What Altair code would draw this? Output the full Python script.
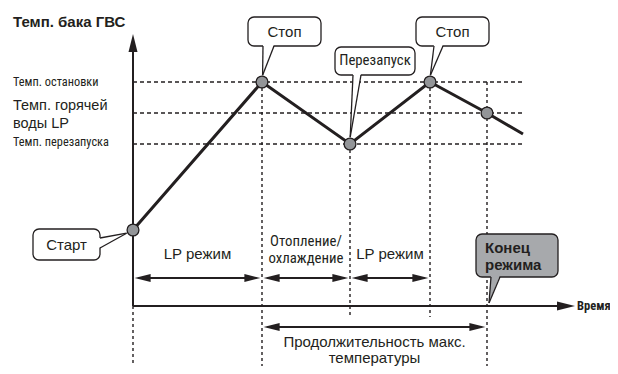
import altair as alt
import pandas as pd

# ---------------- values ----------------
# time and tank temperature in arbitrary (schematic) units
event_names = ["Старт", "Стоп", "Перезапуск", "Стоп", "Конец режима", ""]
event_time = [0, 32.25, 54.25, 74.25, 88.5, 97.5]
tank_temp = [19, 56, 40.5, 56, 48.25, 43]
event_marked = [True, True, True, True, True, False]

level_lines = [["Темп. остановки"], ["Темп. горячей", "воды LP"], ["Темп. перезапуска"]]
level_temp = [56, 48.25, 40.5]

phase_lines = [["LP режим"], ["Отопление/", "охлаждение"], ["LP режим"]]
phase_from = [0, 32.25, 54.25]
phase_to = [32.25, 54.25, 74.25]

maxtemp_lines = ["Продолжительность макс.", "температуры"]
maxtemp_from = 32.25
maxtemp_to = 88.5

title_text = "Темп. бака ГВС"
x_axis_name = "Время"
end_lines = ["Конец", "режима"]

# ---------------- layout (schematic units, 4 px per unit) ----------------
X_MIN, X_MAX = -31.25, 119.25
Y_MIN, Y_MAX = -15, 74.5
INK = "#231f20"
GREY = "#939598"
BOX_GREY = "#a7a9ac"
NARROW = "Noto Sans Condensed, Roboto Condensed, Arial Narrow, Roboto, Liberation Sans"
SANS = "Liberation Sans, Arial, Helvetica"

xs = alt.Scale(domain=[X_MIN, X_MAX], nice=False, zero=False)
ys = alt.Scale(domain=[Y_MIN, Y_MAX], nice=False, zero=False)


def X(f):
    return alt.X(f + ":Q", scale=xs, axis=None)


def Y(f):
    return alt.Y(f + ":Q", scale=ys, axis=None)


# temperature curve
curve = pd.DataFrame({"t": event_time, "v": tank_temp, "m": event_marked})

# dashed level lines
levels = pd.DataFrame({"x": 0, "x2": event_time[-1], "y": level_temp})
dash_layer = alt.Chart(levels).mark_rule(color=INK, strokeWidth=1.3, strokeDash=[4, 3]).encode(
    x=X("x"), x2="x2:Q", y=Y("y"))

# dotted vertical guides
guides = pd.DataFrame({
    "x": [event_time[0], event_time[1], event_time[2], event_time[3], event_time[4]],
    "y": [0, level_temp[0], tank_temp[2], level_temp[0], level_temp[0]],
    "y2": [Y_MIN, Y_MIN, -2.75, -2.75, Y_MIN],
})
guide_layer = alt.Chart(guides).mark_rule(color=INK, strokeWidth=1.4, strokeDash=[3, 3]).encode(
    x=X("x"), y=Y("y"), y2="y2:Q")

# axes
axes = pd.DataFrame({"x": [0, 0], "x2": [0, 108], "y": [0, 0], "y2": [64, 0]})
axis_layer = alt.Chart(axes).mark_rule(color=INK, strokeWidth=2).encode(
    x=X("x"), x2="x2:Q", y=Y("y"), y2="y2:Q")

# double arrows (phases + max temperature duration)
GAP = 0.4
INSET = 1.0
shaft_rows = []
head_rows = [
    {"x": 0, "y": 68, "angle": 270, "size": 324},
    {"x": 110.5, "y": 0, "angle": 0, "size": 324},
]
for a, b in zip(phase_from, phase_to):
    shaft_rows.append({"x": a + GAP + INSET, "x2": b - GAP - INSET, "y": 7})
    head_rows.append({"x": a + GAP, "y": 7, "angle": 180, "size": 256})
    head_rows.append({"x": b - GAP, "y": 7, "angle": 0, "size": 256})
shaft_rows.append({"x": maxtemp_from + GAP + INSET, "x2": maxtemp_to - GAP - INSET, "y": -5.25})
head_rows.append({"x": maxtemp_from + GAP, "y": -5.25, "angle": 180, "size": 256})
head_rows.append({"x": maxtemp_to - GAP, "y": -5.25, "angle": 0, "size": 256})

shaft_layer = alt.Chart(pd.DataFrame(shaft_rows)).mark_rule(color=INK, strokeWidth=2).encode(
    x=X("x"), x2="x2:Q", y=Y("y"))
head_layer = alt.Chart(pd.DataFrame(head_rows)).mark_point(
    shape="M0,0L-2,-0.5L-2,0.5Z", filled=True, color=INK, opacity=1).encode(
    x=X("x"), y=Y("y"), angle=alt.Angle("angle:Q", scale=None), size=alt.Size("size:Q", scale=None))

line_layer = alt.Chart(curve).mark_line(color=INK, strokeWidth=3).encode(x=X("t"), y=Y("v"))
point_layer = alt.Chart(curve[curve["m"]]).mark_circle(
    size=140, color=GREY, stroke=INK, strokeWidth=1.3, opacity=1).encode(x=X("t"), y=Y("v"))

# callouts
boxes = pd.DataFrame({
    "name": ["Стоп", "Перезапуск", "Стоп", "Старт"],
    "x": [28.75, 50.5, 70.75, -25],
    "x2": [47, 70.5, 89, -8.25],
    "y": [65, 57.75, 65, 11.5],
    "y2": [72.25, 64.75, 72.25, 19.25],
})
boxes["cx"] = (boxes["x"] + boxes["x2"]) / 2
boxes["cy"] = (boxes["y"] + boxes["y2"]) / 2
end_box = pd.DataFrame({"x": [85.75], "x2": [106.25], "y": [7.25], "y2": [18]})

box_layer = alt.Chart(boxes).mark_rect(cornerRadius=6, fill="white", stroke=INK, strokeWidth=1.3).encode(
    x=X("x"), x2="x2:Q", y=Y("y"), y2="y2:Q")
end_box_layer = alt.Chart(end_box).mark_rect(cornerRadius=6, fill=BOX_GREY, stroke=INK, strokeWidth=1.3).encode(
    x=X("x"), x2="x2:Q", y=Y("y"), y2="y2:Q")

# pointers below boxes: (base left, base right, base y, tip x, tip y)
ptr = pd.DataFrame({
    "id": ["s1", "r", "s2", "e"],
    "bl": [32.5, 55, 75.25, 89.5],
    "br": [35.25, 57, 77.5, 91.75],
    "by": [65, 57.75, 65, 7.25],
    "tx": [32.4, 54.3, 74.35, 89],
    "ty": [57.7, 42.2, 57.7, 0.75],
    "grey": [False, False, False, True],
})
fill_rows = []
edge_rows = []
for r in ptr.itertuples():
    fill_rows.append({"id": r.id, "y": r.by + 0.45, "x": r.bl, "x2": r.br, "grey": r.grey})
    fill_rows.append({"id": r.id, "y": r.ty, "x": r.tx, "x2": r.tx, "grey": r.grey})
    edge_rows.append({"x": r.bl, "y": r.by, "x2": r.tx, "y2": r.ty})
    edge_rows.append({"x": r.br, "y": r.by, "x2": r.tx, "y2": r.ty})
# horizontal pointer of "Старт"
sx, sy1, sy2, stx, sty = -8.25, 17.0, 14.5, -1.6, 18.2
hfill = pd.DataFrame({"x": [sx - 0.3, stx], "y": [sy1, sty], "y2": [sy2, sty]})
edge_rows.append({"x": sx, "y": sy1, "x2": stx, "y2": sty})
edge_rows.append({"x": sx, "y": sy2, "x2": stx, "y2": sty})

fills = pd.DataFrame(fill_rows)
fill_white = alt.Chart(fills[~fills["grey"]]).mark_area(orient="horizontal", color="white", opacity=1).encode(
    y=Y("y"), x=X("x"), x2="x2:Q", detail="id:N")
fill_grey = alt.Chart(fills[fills["grey"]]).mark_area(orient="horizontal", color=BOX_GREY, opacity=1).encode(
    y=Y("y"), x=X("x"), x2="x2:Q", detail="id:N")
fill_h = alt.Chart(hfill).mark_area(orient="vertical", color="white", opacity=1).encode(
    x=X("x"), y=Y("y"), y2="y2:Q")
edge_layer = alt.Chart(pd.DataFrame(edge_rows)).mark_rule(color=INK, strokeWidth=1.3).encode(
    x=X("x"), x2="x2:Q", y=Y("y"), y2="y2:Q")

# ---------------- texts ----------------
def txt(df, **kw):
    return alt.Chart(df).mark_text(color=INK, **kw).encode(x=X("x"), y=Y("y"), text="text:N")


title_df = pd.DataFrame({"x": [-30], "y": [69.75], "text": [title_text]})
small_levels = pd.DataFrame({"x": [-30, -30], "y": [55, 40],
                             "text": [level_lines[0][0], level_lines[2][0]]})
big_level = pd.DataFrame({"x": [-30, -30], "y": [49.1, 44.5], "text": level_lines[1]})

reg_rows = []
for r in boxes.itertuples():
    if r.name != "Перезапуск":
        reg_rows.append({"x": r.cx, "y": r.cy, "text": r.name})
for a, b, lines in zip(phase_from, phase_to, phase_lines):
    if len(lines) == 1:
        reg_rows.append({"x": (a + b) / 2, "y": 13, "text": lines[0]})
mid = (maxtemp_from + maxtemp_to) / 2
reg_rows.append({"x": mid, "y": -9.1, "text": maxtemp_lines[0]})
reg_rows.append({"x": mid, "y": -13.1, "text": maxtemp_lines[1]})
reg_df = pd.DataFrame(reg_rows)

narrow_rows = []
for r in boxes.itertuples():
    if r.name == "Перезапуск":
        narrow_rows.append({"x": r.cx, "y": r.cy, "text": r.name})
for a, b, lines in zip(phase_from, phase_to, phase_lines):
    if len(lines) == 2:
        narrow_rows.append({"x": (a + b) / 2, "y": 16, "text": lines[0]})
        narrow_rows.append({"x": (a + b) / 2, "y": 11.75, "text": lines[1]})
narrow_df = pd.DataFrame(narrow_rows)

end_df = pd.DataFrame({"x": [88, 88], "y": [14.5, 10.25], "text": end_lines})
time_df = pd.DataFrame({"x": [111], "y": [0], "text": [x_axis_name]})

texts = [
    txt(title_df, align="left", baseline="alphabetic", font=SANS, fontSize=15, fontWeight="bold"),
    txt(small_levels, align="left", baseline="alphabetic", font=NARROW, fontSize=12.3),
    txt(big_level, align="left", baseline="alphabetic", font=SANS, fontSize=14.5),
    txt(reg_df, align="center", baseline="middle", font=SANS, fontSize=15),
    txt(narrow_df, align="center", baseline="middle", font=NARROW, fontSize=14.8),
    txt(end_df, align="left", baseline="middle", font=SANS, fontSize=15, fontWeight="bold"),
    txt(time_df, align="left", baseline="middle", font=NARROW, fontSize=12.5, fontWeight="bold"),
]

chart = alt.layer(
    dash_layer, guide_layer, axis_layer, shaft_layer, head_layer,
    line_layer, point_layer,
    box_layer, end_box_layer, fill_white, fill_grey, fill_h, edge_layer,
    *texts,
).properties(
    width=602, height=358, padding=0, autosize=alt.AutoSizeParams(type="none"), background="white",
).configure_view(stroke=None)

chart.save("out.html", embed_options={"renderer": "svg", "actions": False})
